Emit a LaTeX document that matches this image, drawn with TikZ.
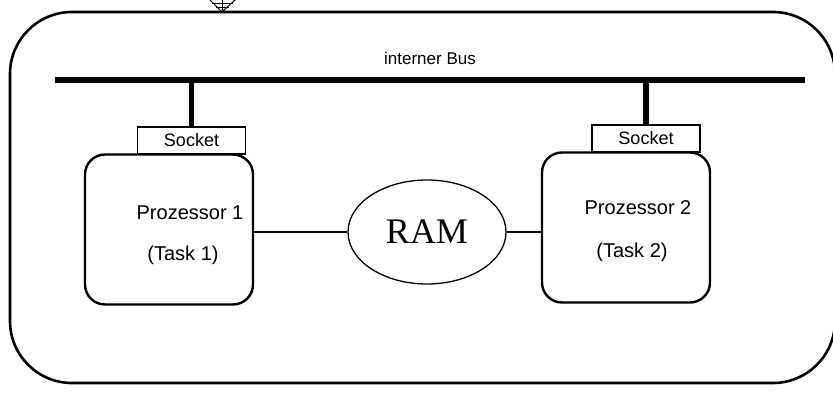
\documentclass[tikz,border=0pt]{standalone}
\usepackage{fontspec}
\setmainfont{Liberation Sans}
\newfontfamily\ramfont{Liberation Serif}
\usetikzlibrary{shapes.geometric,positioning}

\tikzset{
  proc/.style = {draw, line width=2.4pt, rounded corners=20pt, minimum width=168pt, minimum height=150pt},
  sockbox/.style = {draw, line width=1.6pt, minimum width=108pt, minimum height=27pt, font=\fontsize{18}{20}\selectfont},
  stem/.style = {line width=5.5pt},
  txt/.style = {font=\fontsize{20}{24}\selectfont}
}

\begin{document}
\begin{tikzpicture}[x=1pt,y=-1pt]
  \useasboundingbox (0,0) rectangle (833,393);
  % system frame
  \draw[line width=2.6pt, rounded corners=62pt] (10,12) rectangle (835,383);
  % symbol on top of the frame (cut off)
  \draw[line width=1pt] (209,-1) -- (222,12) -- (236,-1);
  \draw[line width=0.8pt] (212,3) -- (233,3) (216,7) -- (229,7) (222,-1) -- (222,12);

  % bus
  \coordinate (busL) at (55,80);
  \coordinate (busR) at (805,80);
  \draw[line width=6pt] (busL) -- (busR);
  \node[font=\fontsize{17}{20}\selectfont] (busLabel) at (430,58) {interner Bus};

  % processors
  \node[proc] (p1) at (169,229.5) {};
  \node[proc] (p2) at (626,227.5) {};
  \node[txt] (p1name) at (190,213) {Prozessor 1};
  \node[txt] (p1task) at (183,255) {(Task 1)};
  \node[txt] (p2name) at (638,208) {Prozessor 2};
  \node[txt] (p2task) at (632,252) {(Task 2)};

  % sockets
  \node[sockbox] (s1) at (191.5,140.5) {Socket};
  \node[sockbox] (s2) at (646,138.5) {Socket};
  \draw[stem] (s1.north) -- (s1.north |- busL);
  \draw[stem] (s2.north) -- (s2.north |- busR);

  % memory
  \node[draw, ellipse, line width=1.3pt, minimum width=158pt, minimum height=104pt,
        font=\ramfont\fontsize{36}{40}\selectfont] (ram) at (427,232) {RAM};
  \draw[line width=1.3pt] (ram.west) -- (ram.west -| p1.east);
  \draw[line width=1.3pt] (ram.east) -- (ram.east -| p2.west);
\end{tikzpicture}
\end{document}
